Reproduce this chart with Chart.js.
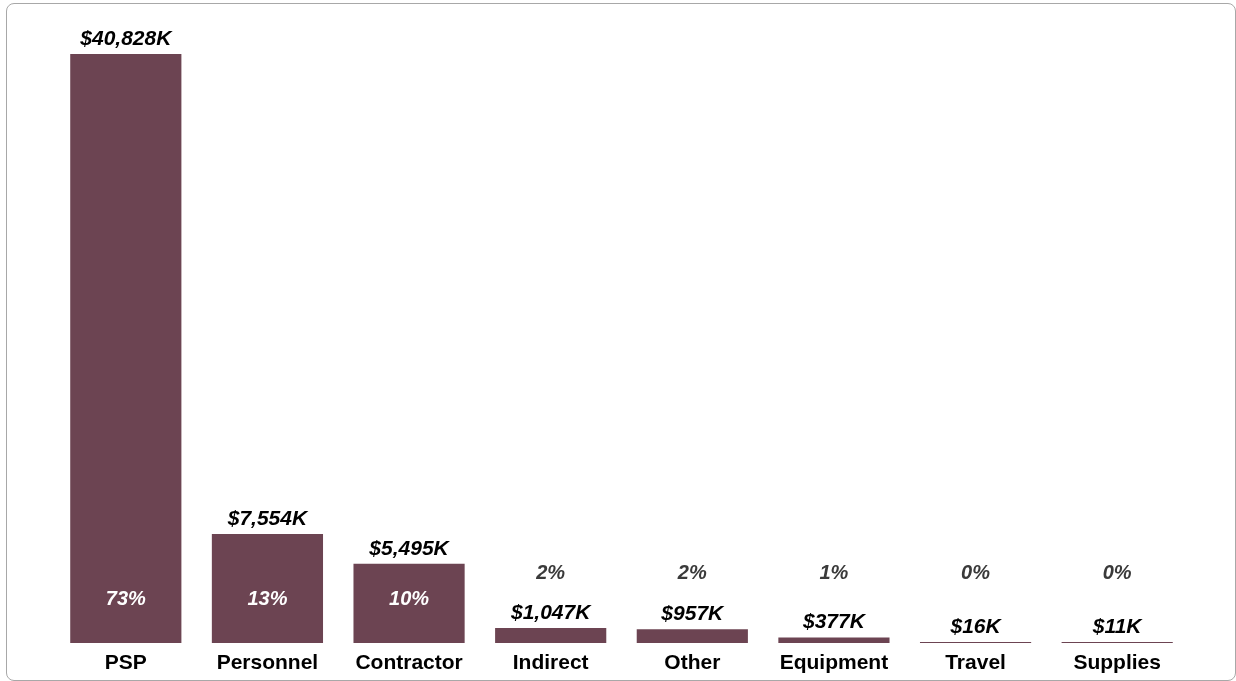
<!DOCTYPE html>
<html>
<head>
<meta charset="utf-8">
<script src="https://cdn.jsdelivr.net/npm/chart.js@4"></script>
<style>
  html, body { margin: 0; padding: 0; background: #fff; }
  #frame {
    position: absolute; left: 6px; top: 3px; width: 1228px; height: 676px;
    border: 1px solid #a8a8a8; border-radius: 8px;
  }
  #wrap { position: absolute; left: 0; top: 0; width: 1236px; height: 681px; }
</style>
</head>
<body>
<div id="frame"></div>
<div id="wrap"><canvas id="spend"></canvas></div>
<script>
const categories = ["PSP", "Personnel", "Contractor", "Indirect", "Other", "Equipment", "Travel", "Supplies"];
const amounts = [40828, 7554, 5495, 1047, 957, 377, 16, 11];
const amountLabels = ["$40,828K", "$7,554K", "$5,495K", "$1,047K", "$957K", "$377K", "$16K", "$11K"];
const shares = ["73%", "13%", "10%", "2%", "2%", "1%", "0%", "0%"];

const labelFont = "Liberation Sans, Arial, sans-serif";

// draws the $ amount above each bar and the share either inside or above it
const barText = {
    id: "barText",
    afterDatasetsDraw(chart) {
        const ctx = chart.ctx;
        const meta = chart.getDatasetMeta(0);
        const base = chart.scales.y.getPixelForValue(0);
        ctx.save();
        ctx.textAlign = "center";
        ctx.textBaseline = "middle";
        meta.data.forEach((bar, i) => {
            ctx.font = "italic bold 21px " + labelFont;
            ctx.fillStyle = "#000";
            ctx.fillText(amountLabels[i], bar.x, bar.y - 15);

            ctx.font = "italic bold 20px " + labelFont;
            if (base - bar.y > 60) {
                ctx.fillStyle = "#fff";
                ctx.fillText(shares[i], bar.x, base - 44);
            } else {
                ctx.fillStyle = "#3a3a3a";
                ctx.fillText(shares[i], bar.x, base - 70);
            }
        });
        ctx.restore();
    },
};

new Chart(document.getElementById("spend"), {
    type: "bar",
    data: {
        labels: categories,
        datasets: [
            {
                data: amounts,
                backgroundColor: "#6c4452",
                barPercentage: 0.785,
                categoryPercentage: 1,
                minBarLength: 1,
            },
        ],
    },
    options: {
        responsive: true,
        maintainAspectRatio: false,
        animation: false,
        layout: {
            padding: { left: 55, right: 48, top: 54, bottom: -3 },
        },
        plugins: {
            legend: { display: false },
            tooltip: { enabled: false },
        },
        scales: {
            x: {
                grid: { display: false, drawTicks: false },
                border: { display: false },
                ticks: {
                    color: "#000",
                    padding: 10,
                    font: { family: labelFont, size: 21, weight: "bold", lineHeight: 1 },
                },
            },
            y: {
                display: false,
                min: 0,
                max: Math.max(...amounts),
            },
        },
    },
    plugins: [barText],
});
</script>
</body>
</html>
